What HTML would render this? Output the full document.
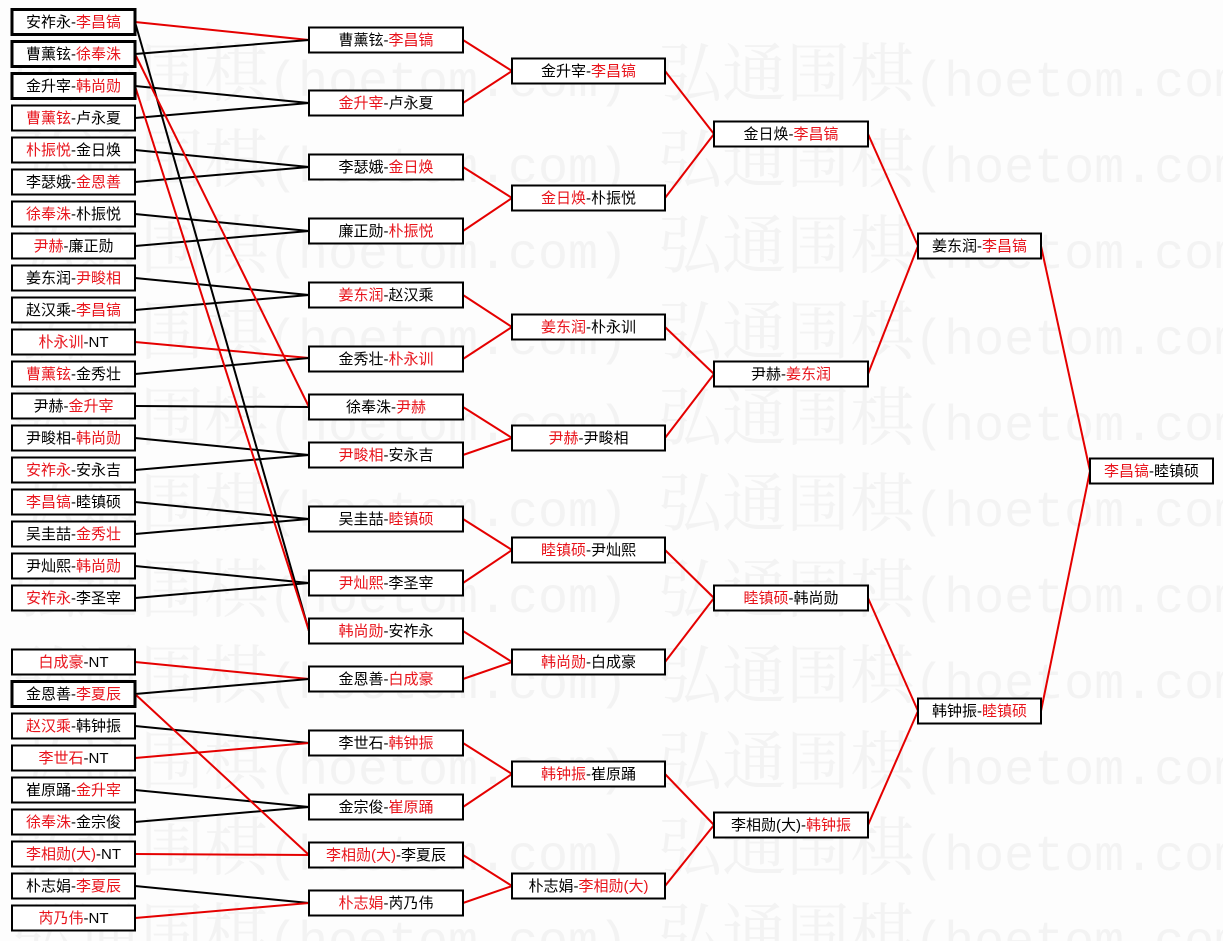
<!DOCTYPE html>
<html><head><meta charset="utf-8"><style>
html,body{margin:0;padding:0;background:#fdfdfd;}
svg{display:block;}
.wm{font-family:"Liberation Serif","Noto Serif CJK SC",serif;font-size:64px;fill:#f3f3f3;}
.wm .l{font-family:"Liberation Mono",monospace;font-size:50px;}
.t{font-family:"Liberation Sans","Noto Sans CJK SC",sans-serif;font-size:15px;fill:#000;text-anchor:middle;}
.r{fill:#e8141c;}
rect{fill:#fff;stroke:#000;stroke-width:2;}
rect.b{stroke-width:3;}
line{stroke-width:2;}
.k{stroke:#000;}
.rd{stroke:#e50000;}
</style></head><body>
<svg width="1223" height="941" viewBox="0 0 1223 941" xmlns="http://www.w3.org/2000/svg">
<g class="wm">
<text x="12" y="96">弘通围棋<tspan class="l">(hoetom.com) </tspan>弘通围棋<tspan class="l">(hoetom.com)</tspan></text>
<text x="12" y="182">弘通围棋<tspan class="l">(hoetom.com) </tspan>弘通围棋<tspan class="l">(hoetom.com)</tspan></text>
<text x="12" y="268">弘通围棋<tspan class="l">(hoetom.com) </tspan>弘通围棋<tspan class="l">(hoetom.com)</tspan></text>
<text x="12" y="354">弘通围棋<tspan class="l">(hoetom.com) </tspan>弘通围棋<tspan class="l">(hoetom.com)</tspan></text>
<text x="12" y="440">弘通围棋<tspan class="l">(hoetom.com) </tspan>弘通围棋<tspan class="l">(hoetom.com)</tspan></text>
<text x="12" y="526">弘通围棋<tspan class="l">(hoetom.com) </tspan>弘通围棋<tspan class="l">(hoetom.com)</tspan></text>
<text x="12" y="612">弘通围棋<tspan class="l">(hoetom.com) </tspan>弘通围棋<tspan class="l">(hoetom.com)</tspan></text>
<text x="12" y="698">弘通围棋<tspan class="l">(hoetom.com) </tspan>弘通围棋<tspan class="l">(hoetom.com)</tspan></text>
<text x="12" y="784">弘通围棋<tspan class="l">(hoetom.com) </tspan>弘通围棋<tspan class="l">(hoetom.com)</tspan></text>
<text x="12" y="870">弘通围棋<tspan class="l">(hoetom.com) </tspan>弘通围棋<tspan class="l">(hoetom.com)</tspan></text>
<text x="12" y="956">弘通围棋<tspan class="l">(hoetom.com) </tspan>弘通围棋<tspan class="l">(hoetom.com)</tspan></text>
</g>

<line class="rd" x1="135" y1="22" x2="309" y2="40"/>
<line class="k" x1="135" y1="54" x2="309" y2="40"/>
<line class="k" x1="135" y1="86" x2="309" y2="103"/>
<line class="k" x1="135" y1="118" x2="309" y2="103"/>
<line class="k" x1="135" y1="150" x2="309" y2="167"/>
<line class="k" x1="135" y1="182" x2="309" y2="167"/>
<line class="k" x1="135" y1="214" x2="309" y2="231"/>
<line class="k" x1="135" y1="246" x2="309" y2="231"/>
<line class="k" x1="135" y1="278" x2="309" y2="295"/>
<line class="k" x1="135" y1="310" x2="309" y2="295"/>
<line class="rd" x1="135" y1="342" x2="309" y2="358"/>
<line class="k" x1="135" y1="374" x2="309" y2="358"/>
<line class="k" x1="135" y1="406" x2="309" y2="407"/>
<line class="k" x1="135" y1="438" x2="309" y2="455"/>
<line class="k" x1="135" y1="470" x2="309" y2="455"/>
<line class="k" x1="135" y1="502" x2="309" y2="519"/>
<line class="k" x1="135" y1="534" x2="309" y2="519"/>
<line class="k" x1="135" y1="566" x2="309" y2="583"/>
<line class="k" x1="135" y1="598" x2="309" y2="583"/>
<line class="rd" x1="135" y1="662" x2="309" y2="679"/>
<line class="k" x1="135" y1="694" x2="309" y2="679"/>
<line class="k" x1="135" y1="726" x2="309" y2="743"/>
<line class="rd" x1="135" y1="758" x2="309" y2="743"/>
<line class="k" x1="135" y1="790" x2="309" y2="807"/>
<line class="k" x1="135" y1="822" x2="309" y2="807"/>
<line class="rd" x1="135" y1="854" x2="309" y2="855"/>
<line class="k" x1="135" y1="886" x2="309" y2="903"/>
<line class="rd" x1="135" y1="918" x2="309" y2="903"/>
<line class="k" x1="135" y1="22" x2="309" y2="631"/>
<line class="rd" x1="135" y1="54" x2="309" y2="407"/>
<line class="rd" x1="135" y1="86" x2="309" y2="631"/>
<line class="rd" x1="135" y1="694" x2="309" y2="855"/>

<g class="rd">
<line x1="463" y1="40" x2="512" y2="71"/><line x1="463" y1="103" x2="512" y2="71"/>
<line x1="463" y1="167" x2="512" y2="198"/><line x1="463" y1="231" x2="512" y2="198"/>
<line x1="463" y1="295" x2="512" y2="327"/><line x1="463" y1="359" x2="512" y2="327"/>
<line x1="463" y1="407" x2="512" y2="438"/><line x1="463" y1="455" x2="512" y2="438"/>
<line x1="463" y1="519" x2="512" y2="550"/><line x1="463" y1="583" x2="512" y2="550"/>
<line x1="463" y1="631" x2="512" y2="662"/><line x1="463" y1="679" x2="512" y2="662"/>
<line x1="463" y1="743" x2="512" y2="774"/><line x1="463" y1="807" x2="512" y2="774"/>
<line x1="463" y1="855" x2="512" y2="886"/><line x1="463" y1="903" x2="512" y2="886"/>
<line x1="665" y1="71" x2="714" y2="134"/><line x1="665" y1="198" x2="714" y2="134"/>
<line x1="665" y1="327" x2="714" y2="374"/><line x1="665" y1="438" x2="714" y2="374"/>
<line x1="665" y1="550" x2="714" y2="598"/><line x1="665" y1="662" x2="714" y2="598"/>
<line x1="665" y1="774" x2="714" y2="825"/><line x1="665" y1="886" x2="714" y2="825"/>
<line x1="868" y1="134" x2="918" y2="246"/><line x1="868" y1="374" x2="918" y2="246"/>
<line x1="868" y1="598" x2="918" y2="711"/><line x1="868" y1="825" x2="918" y2="711"/>
<line x1="1041" y1="246" x2="1090" y2="471"/><line x1="1041" y1="711" x2="1090" y2="471"/>
</g>

<g>
<rect class="b" x="12" y="9.5" width="123" height="25"/><text class="t" x="73.5" y="27">安祚永-<tspan class="r">李昌镐</tspan></text>
<rect class="b" x="12" y="41.5" width="123" height="25"/><text class="t" x="73.5" y="59">曹薰铉-<tspan class="r">徐奉洙</tspan></text>
<rect class="b" x="12" y="73.5" width="123" height="25"/><text class="t" x="73.5" y="91">金升宰-<tspan class="r">韩尚勋</tspan></text>
<rect x="12" y="105.5" width="123" height="25"/><text class="t" x="73.5" y="123"><tspan class="r">曹薰铉</tspan>-卢永夏</text>
<rect x="12" y="137.5" width="123" height="25"/><text class="t" x="73.5" y="155"><tspan class="r">朴振悦</tspan>-金日焕</text>
<rect x="12" y="169.5" width="123" height="25"/><text class="t" x="73.5" y="187">李瑟娥-<tspan class="r">金恩善</tspan></text>
<rect x="12" y="201.5" width="123" height="25"/><text class="t" x="73.5" y="219"><tspan class="r">徐奉洙</tspan>-朴振悦</text>
<rect x="12" y="233.5" width="123" height="25"/><text class="t" x="73.5" y="251"><tspan class="r">尹赫</tspan>-廉正勋</text>
<rect x="12" y="265.5" width="123" height="25"/><text class="t" x="73.5" y="283">姜东润-<tspan class="r">尹畯相</tspan></text>
<rect x="12" y="297.5" width="123" height="25"/><text class="t" x="73.5" y="315">赵汉乘-<tspan class="r">李昌镐</tspan></text>
<rect x="12" y="329.5" width="123" height="25"/><text class="t" x="73.5" y="347"><tspan class="r">朴永训</tspan>-NT</text>
<rect x="12" y="361.5" width="123" height="25"/><text class="t" x="73.5" y="379"><tspan class="r">曹薰铉</tspan>-金秀壮</text>
<rect x="12" y="393.5" width="123" height="25"/><text class="t" x="73.5" y="411">尹赫-<tspan class="r">金升宰</tspan></text>
<rect x="12" y="425.5" width="123" height="25"/><text class="t" x="73.5" y="443">尹畯相-<tspan class="r">韩尚勋</tspan></text>
<rect x="12" y="457.5" width="123" height="25"/><text class="t" x="73.5" y="475"><tspan class="r">安祚永</tspan>-安永吉</text>
<rect x="12" y="489.5" width="123" height="25"/><text class="t" x="73.5" y="507"><tspan class="r">李昌镐</tspan>-睦镇硕</text>
<rect x="12" y="521.5" width="123" height="25"/><text class="t" x="73.5" y="539">吴圭喆-<tspan class="r">金秀壮</tspan></text>
<rect x="12" y="553.5" width="123" height="25"/><text class="t" x="73.5" y="571">尹灿熙-<tspan class="r">韩尚勋</tspan></text>
<rect x="12" y="585.5" width="123" height="25"/><text class="t" x="73.5" y="603"><tspan class="r">安祚永</tspan>-李圣宰</text>
<rect x="12" y="649.5" width="123" height="25"/><text class="t" x="73.5" y="667"><tspan class="r">白成豪</tspan>-NT</text>
<rect class="b" x="12" y="681.5" width="123" height="25"/><text class="t" x="73.5" y="699">金恩善-<tspan class="r">李夏辰</tspan></text>
<rect x="12" y="713.5" width="123" height="25"/><text class="t" x="73.5" y="731"><tspan class="r">赵汉乘</tspan>-韩钟振</text>
<rect x="12" y="745.5" width="123" height="25"/><text class="t" x="73.5" y="763"><tspan class="r">李世石</tspan>-NT</text>
<rect x="12" y="777.5" width="123" height="25"/><text class="t" x="73.5" y="795">崔原踊-<tspan class="r">金升宰</tspan></text>
<rect x="12" y="809.5" width="123" height="25"/><text class="t" x="73.5" y="827"><tspan class="r">徐奉洙</tspan>-金宗俊</text>
<rect x="12" y="841.5" width="123" height="25"/><text class="t" x="73.5" y="859"><tspan class="r">李相勋(大)</tspan>-NT</text>
<rect x="12" y="873.5" width="123" height="25"/><text class="t" x="73.5" y="891">朴志娟-<tspan class="r">李夏辰</tspan></text>
<rect x="12" y="905.5" width="123" height="25"/><text class="t" x="73.5" y="923"><tspan class="r">芮乃伟</tspan>-NT</text>
</g>

<g>
<rect x="309" y="27.5" width="154" height="25"/><text class="t" x="386" y="45">曹薰铉-<tspan class="r">李昌镐</tspan></text>
<rect x="309" y="90.5" width="154" height="25"/><text class="t" x="386" y="108"><tspan class="r">金升宰</tspan>-卢永夏</text>
<rect x="309" y="154.5" width="154" height="25"/><text class="t" x="386" y="172">李瑟娥-<tspan class="r">金日焕</tspan></text>
<rect x="309" y="218.5" width="154" height="25"/><text class="t" x="386" y="236">廉正勋-<tspan class="r">朴振悦</tspan></text>
<rect x="309" y="282.5" width="154" height="25"/><text class="t" x="386" y="300"><tspan class="r">姜东润</tspan>-赵汉乘</text>
<rect x="309" y="346.5" width="154" height="25"/><text class="t" x="386" y="364">金秀壮-<tspan class="r">朴永训</tspan></text>
<rect x="309" y="394.5" width="154" height="25"/><text class="t" x="386" y="412">徐奉洙-<tspan class="r">尹赫</tspan></text>
<rect x="309" y="442.5" width="154" height="25"/><text class="t" x="386" y="460"><tspan class="r">尹畯相</tspan>-安永吉</text>
<rect x="309" y="506.5" width="154" height="25"/><text class="t" x="386" y="524">吴圭喆-<tspan class="r">睦镇硕</tspan></text>
<rect x="309" y="570.5" width="154" height="25"/><text class="t" x="386" y="588"><tspan class="r">尹灿熙</tspan>-李圣宰</text>
<rect x="309" y="618.5" width="154" height="25"/><text class="t" x="386" y="636"><tspan class="r">韩尚勋</tspan>-安祚永</text>
<rect x="309" y="666.5" width="154" height="25"/><text class="t" x="386" y="684">金恩善-<tspan class="r">白成豪</tspan></text>
<rect x="309" y="730.5" width="154" height="25"/><text class="t" x="386" y="748">李世石-<tspan class="r">韩钟振</tspan></text>
<rect x="309" y="794.5" width="154" height="25"/><text class="t" x="386" y="812">金宗俊-<tspan class="r">崔原踊</tspan></text>
<rect x="309" y="842.5" width="154" height="25"/><text class="t" x="386" y="860"><tspan class="r">李相勋(大)</tspan>-李夏辰</text>
<rect x="309" y="890.5" width="154" height="25"/><text class="t" x="386" y="908"><tspan class="r">朴志娟</tspan>-芮乃伟</text>
</g>

<g>
<rect x="512" y="58.5" width="153" height="25"/><text class="t" x="588.5" y="76">金升宰-<tspan class="r">李昌镐</tspan></text>
<rect x="512" y="185.5" width="153" height="25"/><text class="t" x="588.5" y="203"><tspan class="r">金日焕</tspan>-朴振悦</text>
<rect x="512" y="314.5" width="153" height="25"/><text class="t" x="588.5" y="332"><tspan class="r">姜东润</tspan>-朴永训</text>
<rect x="512" y="425.5" width="153" height="25"/><text class="t" x="588.5" y="443"><tspan class="r">尹赫</tspan>-尹畯相</text>
<rect x="512" y="537.5" width="153" height="25"/><text class="t" x="588.5" y="555"><tspan class="r">睦镇硕</tspan>-尹灿熙</text>
<rect x="512" y="649.5" width="153" height="25"/><text class="t" x="588.5" y="667"><tspan class="r">韩尚勋</tspan>-白成豪</text>
<rect x="512" y="761.5" width="153" height="25"/><text class="t" x="588.5" y="779"><tspan class="r">韩钟振</tspan>-崔原踊</text>
<rect x="512" y="873.5" width="153" height="25"/><text class="t" x="588.5" y="891">朴志娟-<tspan class="r">李相勋(大)</tspan></text>
</g>

<g>
<rect x="714" y="121.5" width="154" height="25"/><text class="t" x="791" y="139">金日焕-<tspan class="r">李昌镐</tspan></text>
<rect x="714" y="361.5" width="154" height="25"/><text class="t" x="791" y="379">尹赫-<tspan class="r">姜东润</tspan></text>
<rect x="714" y="585.5" width="154" height="25"/><text class="t" x="791" y="603"><tspan class="r">睦镇硕</tspan>-韩尚勋</text>
<rect x="714" y="812.5" width="154" height="25"/><text class="t" x="791" y="830">李相勋(大)-<tspan class="r">韩钟振</tspan></text>
</g>

<rect x="918" y="233.5" width="123" height="25"/><text class="t" x="979.5" y="251">姜东润-<tspan class="r">李昌镐</tspan></text>
<rect x="918" y="698.5" width="123" height="25"/><text class="t" x="979.5" y="716">韩钟振-<tspan class="r">睦镇硕</tspan></text>

<rect x="1090" y="458.5" width="123" height="25"/><text class="t" x="1151.5" y="476"><tspan class="r">李昌镐</tspan>-睦镇硕</text>
</svg>
</body></html>
